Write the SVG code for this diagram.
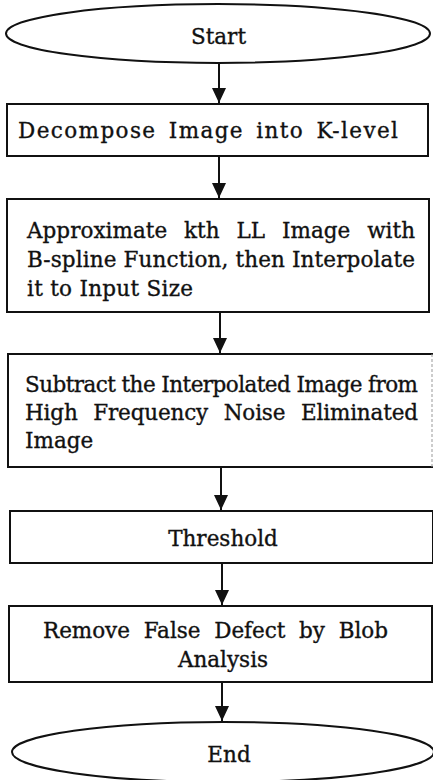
<svg xmlns="http://www.w3.org/2000/svg" width="433" height="780" viewBox="0 0 433 780">
<style>
  .shape { fill: #ffffff; stroke: #111111; stroke-width: 2; }
  .edge { stroke: #111111; stroke-width: 2; fill: none; }
  .t { font-family: "DejaVu Serif", "Liberation Serif", serif; font-size: 21.5px; fill: #111111; stroke: #111111; stroke-width: 0.35; }
  .c { text-anchor: middle; }
</style>
<defs>
  <marker id="arrow" markerUnits="userSpaceOnUse" markerWidth="16" markerHeight="16" refX="15" refY="7" orient="auto">
    <path d="M0,0 L15,7 L0,14 Z" fill="#111111"/>
  </marker>
</defs>
<rect x="0" y="0" width="433" height="780" fill="#ffffff"/>
<g id="connectors">
  <line class="edge" x1="219" y1="63" x2="219" y2="103" marker-end="url(#arrow)"/>
  <line class="edge" x1="219" y1="156" x2="219" y2="198" marker-end="url(#arrow)"/>
  <line class="edge" x1="220" y1="312" x2="220" y2="353" marker-end="url(#arrow)"/>
  <line class="edge" x1="221" y1="467" x2="221" y2="510" marker-end="url(#arrow)"/>
  <line class="edge" x1="222" y1="563" x2="222" y2="605" marker-end="url(#arrow)"/>
  <line class="edge" x1="222" y1="682" x2="222" y2="721" marker-end="url(#arrow)"/>
</g>
<g id="start">
  <ellipse class="shape" cx="218" cy="33.5" rx="212" ry="29.5"/>
  <text class="t c" x="218.5" y="44">Start</text>
</g>
<g id="decompose">
  <rect class="shape" x="7" y="104" width="421" height="52"/>
  <text class="t" x="18" y="138" word-spacing="4" textLength="380" lengthAdjust="spacing">Decompose Image into K-level</text>
</g>
<g id="approximate">
  <rect class="shape" x="7" y="199" width="422" height="113"/>
  <text class="t" x="27" y="238" word-spacing="10" textLength="388" lengthAdjust="spacing">Approximate kth LL Image with</text>
  <text class="t" x="27" y="267" textLength="388" lengthAdjust="spacing">B-spline Function, then Interpolate</text>
  <text class="t" x="27" y="296" textLength="166" lengthAdjust="spacing">it to Input Size</text>
</g>
<g id="subtract">
  <path class="shape" d="M433,354 L8,354 L8,467 L433,467"/>
  <line x1="432" y1="354" x2="432" y2="467" stroke="#999999" stroke-width="1" stroke-dasharray="3,2"/>
  <text class="t" x="25" y="392" textLength="393" lengthAdjust="spacing">Subtract the Interpolated Image from</text>
  <text class="t" x="25" y="420" word-spacing="9" textLength="393" lengthAdjust="spacing">High Frequency Noise Eliminated</text>
  <text class="t" x="25" y="448">Image</text>
</g>
<g id="threshold">
  <rect class="shape" x="10" y="511" width="423" height="52"/>
  <text class="t c" x="223" y="546">Threshold</text>
</g>
<g id="remove">
  <rect class="shape" x="9" y="606" width="423" height="76"/>
  <text class="t" x="43" y="638" word-spacing="7" textLength="345" lengthAdjust="spacing">Remove False Defect by Blob</text>
  <text class="t c" x="223" y="667">Analysis</text>
</g>
<g id="end">
  <ellipse class="shape" cx="223" cy="752" rx="211" ry="30"/>
  <text class="t c" x="229" y="762">End</text>
</g>
</svg>
